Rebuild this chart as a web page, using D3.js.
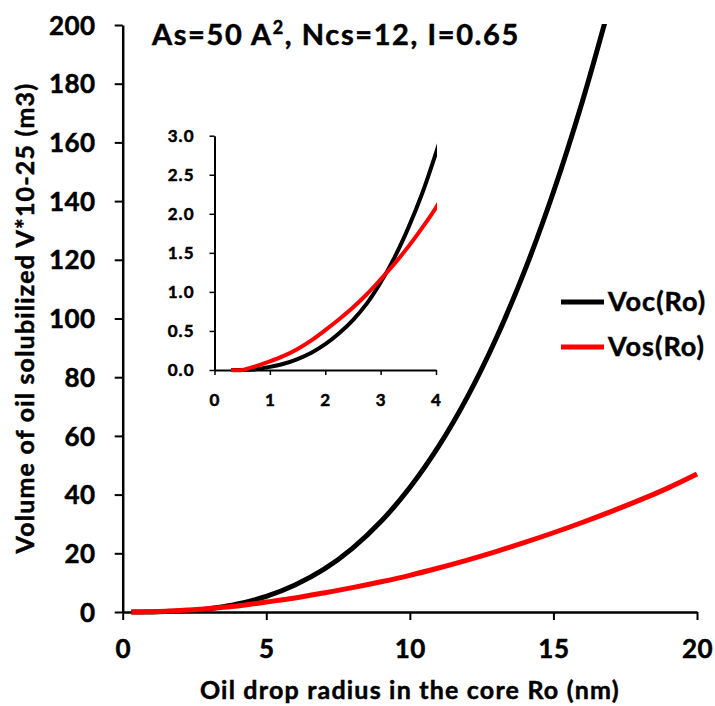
<!DOCTYPE html>
<html>
<head>
<meta charset="utf-8">
<script src="https://cdn.jsdelivr.net/npm/d3@7"></script>
<style>
  html, body { margin: 0; padding: 0; background: #fff; }
  svg { display: block; font-family: Lato, "Open Sans", sans-serif; font-weight: bold; }
  svg text { stroke: #000; stroke-width: 0.5px; }
</style>
</head>
<body>
<div id="app"></div>
<script>
// oil drop radius Ro (nm)
const radius = [0.3, 0.5, 0.75, 1, 1.25, 1.5, 1.75, 2, 2.25, 2.5, 2.75, 3, 3.25, 3.5, 3.75, 4,
  4.5, 5, 6, 7, 8, 9, 10, 11, 12, 13, 14, 15, 16, 17, 18, 19, 20];
// Voc(Ro), core solubilized volume
const voc = [0, 0, 0.01, 0.04, 0.08, 0.14, 0.22, 0.33, 0.47, 0.64, 0.85, 1.12, 1.44, 1.82, 2.26, 2.78,
  3.9, 5.3, 9.2, 14.5, 21.7, 30.9, 42.4, 56.4, 73.2, 93.1, 116.3, 143.1, 173.7, 208.3, null, null, null];
// Vos(Ro), shell solubilized volume
const vos = [0, 0, 0.05, 0.11, 0.18, 0.27, 0.38, 0.51, 0.65, 0.8, 0.97, 1.16, 1.36, 1.58, 1.82, 2.08,
  2.7, 3.4, 4.8, 6.5, 8.3, 10.3, 12.5, 15.0, 17.7, 20.6, 23.7, 27.0, 30.5, 34.2, 38.1, 42.3, 47.0];

const xTicks = [0, 5, 10, 15, 20];
const yTicks = [0, 20, 40, 60, 80, 100, 120, 140, 160, 180, 200];
const insetXTicks = [0, 1, 2, 3, 4];
const insetYTicks = [0, 0.5, 1.0, 1.5, 2.0, 2.5, 3.0];

const series = [
  { name: 'Voc(Ro)', color: '#000000', values: voc },
  { name: 'Vos(Ro)', color: '#ff0000', values: vos }
];

const width = 715, height = 706;

const svg = d3.select('#app').append('svg')
  .attr('width', width)
  .attr('height', height);

// 主图坐标
const x = d3.scaleLinear().domain([0, 20]).range([122.7, 697]);
const y = d3.scaleLinear().domain([0, 200]).range([612, 25]);

svg.append('clipPath').attr('id', 'mainClip')
  .append('rect')
  .attr('x', x(0)).attr('y', y(200) - 1)
  .attr('width', x(20) - x(0) + 10).attr('height', y(0) - y(200) + 10);

function drawAxes(g, sx, sy, xt, yt, opts) {
  const xa = g.append('g')
    .attr('transform', `translate(0,${sy.range()[0]})`)
    .call(d3.axisBottom(sx).tickValues(xt).tickSize(opts.tick).tickSizeOuter(0).tickFormat(d3.format('d')));
  const ya = g.append('g')
    .attr('transform', `translate(${sx.range()[0]},0)`)
    .call(d3.axisLeft(sy).tickValues(yt).tickSize(opts.tick).tickSizeOuter(0).tickFormat(opts.yFormat));
  [xa, ya].forEach(a => {
    a.select('.domain').attr('stroke', '#000').attr('stroke-width', opts.domainWidth);
    a.selectAll('.tick line').attr('stroke', '#000').attr('stroke-width', opts.tickWidth);
    a.selectAll('.tick text')
      .attr('fill', '#000')
      .style('font-size', opts.fontSize + 'px')
      .style('letter-spacing', opts.spacing + 'px')
      .style('font-family', 'Lato, sans-serif')
      .style('font-weight', 'bold');
  });
  xa.selectAll('.tick text').attr('y', opts.xLabelDy).attr('dy', '0.35em');
  ya.selectAll('.tick text').attr('x', -opts.yLabelDx).attr('dy', '0.35em');
  return { xa, ya };
}

drawAxes(svg, x, y, xTicks, yTicks, {
  tick: 8, domainWidth: 2.5, tickWidth: 2, fontSize: 26, spacing: 0.5,
  xLabelDy: 37, yLabelDx: 27, yFormat: d3.format('d')
});

const mainLine = (vals) => d3.line()
  .defined((d, i) => vals[i] != null)
  .x((d, i) => x(radius[i]))
  .y((d, i) => y(vals[i]))
  .curve(d3.curveCatmullRom.alpha(0.5));

const mainG = svg.append('g').attr('clip-path', 'url(#mainClip)');
series.forEach(s => {
  mainG.append('path')
    .datum(radius)
    .attr('d', mainLine(s.values))
    .attr('fill', 'none')
    .attr('stroke', s.color)
    .attr('stroke-width', 5)
    .attr('stroke-linejoin', 'round');
});

// 内嵌小图 (0-4 nm)
const ix = d3.scaleLinear().domain([0, 4]).range([214.5, 436]);
const iy = d3.scaleLinear().domain([0, 3]).range([370, 135.7]);

const inset = svg.append('g');
drawAxes(inset, ix, iy, insetXTicks, insetYTicks, {
  tick: 5, domainWidth: 2, tickWidth: 1.5, fontSize: 17, spacing: 1,
  xLabelDy: 30, yLabelDx: 20, yFormat: d3.format('.1f')
});

svg.append('clipPath').attr('id', 'insetClip')
  .append('rect')
  .attr('x', ix(0)).attr('y', iy(3))
  .attr('width', ix(4) - ix(0) + 1).attr('height', iy(0) - iy(3) + 5);

const insetIdx = radius.map((r, i) => i).filter(i => radius[i] <= 4.5);
const insetLine = (vals) => d3.line()
  .x(i => ix(radius[i]))
  .y(i => iy(vals[i]))
  .curve(d3.curveCatmullRom.alpha(0.5));

const insetG = svg.append('g').attr('clip-path', 'url(#insetClip)');
series.forEach(s => {
  insetG.append('path')
    .datum(insetIdx)
    .attr('d', insetLine(s.values))
    .attr('fill', 'none')
    .attr('stroke', s.color)
    .attr('stroke-width', 4)
    .attr('stroke-linejoin', 'round');
});

// 标题
const title = svg.append('text')
  .attr('x', 152)
  .attr('y', 45)
  .attr('fill', '#000')
  .style('font-size', '29px')
  .style('letter-spacing', '1.6px');
title.append('tspan').text('As=50 A');
title.append('tspan').text('2').style('font-size', '18px').attr('dy', -11);
title.append('tspan').text(', Ncs=12, I=0.65').attr('dy', 11);

// 坐标轴标题
svg.append('text')
  .attr('x', x(10))
  .attr('y', 690)
  .attr('text-anchor', 'middle')
  .attr('dy', '0.35em')
  .style('font-size', '25px')
  .style('letter-spacing', '1.2px')
  .text('Oil drop radius in the core Ro (nm)');

svg.append('text')
  .attr('transform', `translate(25,${318}) rotate(-90)`)
  .attr('text-anchor', 'middle')
  .attr('dy', '0.35em')
  .style('font-size', '25px')
  .style('letter-spacing', '1.2px')
  .text('Volume of oil solubilized V*10-25 (m3)');

// 图例
const legend = svg.append('g').attr('transform', 'translate(561,302)');
series.forEach((s, i) => {
  const row = legend.append('g').attr('transform', `translate(0,${i * 45})`);
  row.append('line')
    .attr('x1', 0).attr('x2', 43)
    .attr('stroke', s.color)
    .attr('stroke-width', 5);
  row.append('text')
    .attr('x', 47)
    .attr('dy', '0.35em')
    .style('font-size', '27px')
    .style('letter-spacing', '1px')
    .text(s.name);
});
</script>
</body>
</html>
